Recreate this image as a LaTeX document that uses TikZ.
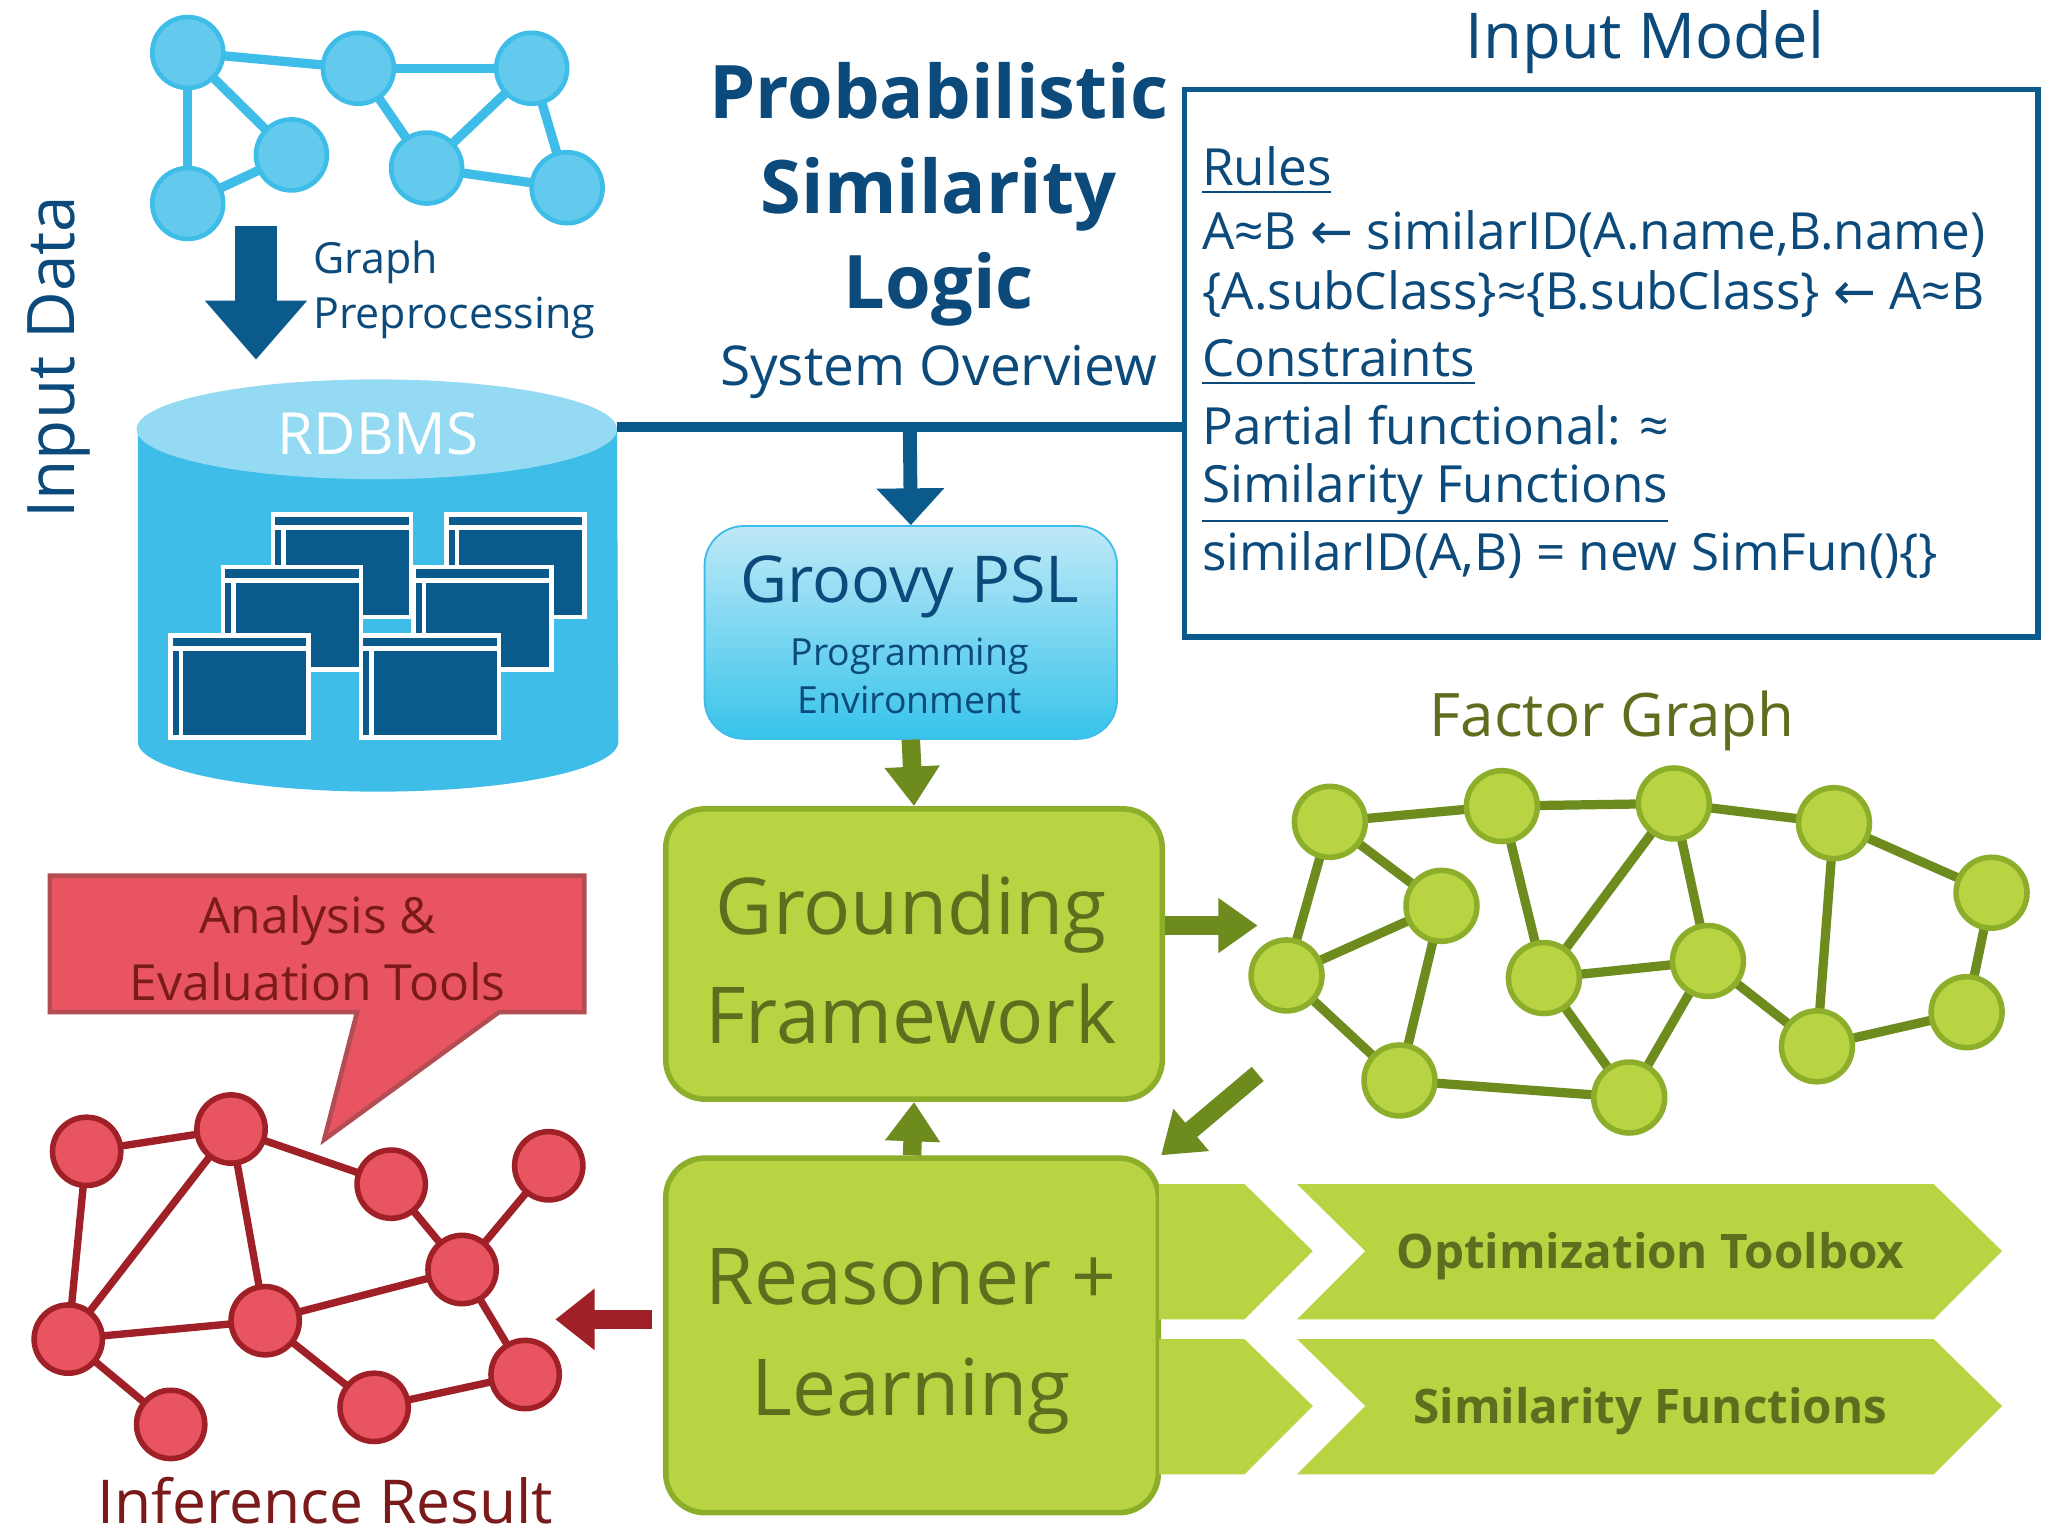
\documentclass[tikz,border=0pt]{standalone}
\usepackage{fontspec}
\setmainfont{Open Sans}
\newfontfamily\djv{DejaVu Sans}
\usetikzlibrary{arrows.meta}
\definecolor{dblue}{HTML}{0B5A8C}
\definecolor{tblue}{HTML}{0B4A7A}
\definecolor{cyanA}{HTML}{3DBDE8}
\definecolor{cyanB}{HTML}{95DAF3}
\definecolor{lgreen}{HTML}{B8D443}
\definecolor{bgreen}{HTML}{8DAE2A}
\definecolor{olive}{HTML}{5E6E1E}
\definecolor{aolive}{HTML}{6E8B1E}
\definecolor{rfill}{HTML}{E85560}
\definecolor{rdark}{HTML}{A02028}
\definecolor{rtext}{HTML}{7A1A1A}
\tikzset{
 bn/.style={circle,fill=cyanA!80!white,draw=cyanA,line width=1pt,minimum size=0.54cm,inner sep=0},
 gn/.style={circle,fill=lgreen,draw=bgreen,line width=1.2pt,minimum size=0.54cm,inner sep=0},
 rn/.style={circle,fill=rfill,draw=rdark,line width=1.2pt,minimum size=0.52cm,inner sep=0},
 be/.style={draw=cyanA,line width=2pt},
 ge/.style={draw=aolive,line width=2pt},
 re/.style={draw=rdark,line width=1.6pt},
 tbl/.style={fill=dblue,draw=white,line width=1pt},
 gbox/.style={fill=lgreen,draw=bgreen,line width=1.2pt,rounded corners=0.3cm},
 garr/.style={draw=aolive,line width=4pt,-{Triangle[length=0.3cm,width=0.4cm]}},
 mtxt/.style={font=\fontsize{11.1}{13}\selectfont,text=tblue,anchor=west,inner sep=0},
}
\begin{document}
\begin{tikzpicture}[x=0.01cm,y=-0.01cm]
\useasboundingbox[fill=white] (0,0) rectangle (1560,1170);
% top-left graph
\foreach \n/\x/\y in {a/143/40,b/273/52,c/405/52,d/222/118,e/325/128,f/432/143,g/143/155}
  \coordinate (t\n) at (\x,\y);
\foreach \u/\v in {a/b,b/c,a/d,a/g,d/g,b/e,c/e,c/f,e/f} \draw[be] (t\u)--(t\v);
\foreach \n in {a,b,c,d,e,f,g} \node[bn] (n\n) at (t\n) {};
\coordinate (ga) at (195,172); \coordinate (gb) at (195,274);
\draw[dblue,line width=9pt,-{Triangle[length=0.45cm,width=0.75cm]}] (ga)--(gb);
\node[anchor=west,align=left,text=tblue,font=\fontsize{9.3}{12}\selectfont,inner sep=0] (gp) at (238,221) {Graph\\Preprocessing};
\node[rotate=90,text=tblue,font=\fontsize{14.2}{16}\selectfont] (idata) at (45,272) {Input Data};
% cylinder
\fill[cyanA] (105,327) -- (105,565) arc[x radius=183,y radius=38,start angle=180,end angle=0] -- (470,327) -- cycle;
\fill[cyanB] (287,327) ellipse[x radius=183,y radius=38];
\node[text=white,font=\fontsize{12.6}{15}\selectfont] (rdb) at (288,330) {RDBMS};
\foreach \x/\y in {208/392,340/392,170/432,315/432,130/484,275/484}{
 \draw[tbl] (\x,\y) rectangle ++(105,78);
 \draw[white,line width=1pt] (\x,\y+10) -- ++(105,0);
 \draw[white,line width=1pt] (\x+8,\y+10) -- ++(0,68);
}
% title
\node[font=\bfseries\fontsize{16}{20.5}\selectfont,text=tblue,align=center] (title) at (715,148) {Probabilistic\\Similarity\\Logic};
\node[font=\fontsize{11.9}{14}\selectfont,text=tblue] (sov) at (715,283) {System Overview};
% input model
\node[font=\fontsize{13.7}{16}\selectfont,text=tblue] (imt) at (1253,32) {Input Model};
\node[draw=dblue,line width=1.2pt,minimum width=6.5cm,minimum height=4.17cm,anchor=north west,inner sep=0] (im) at (900,66) {};
\node[mtxt] (l1) at (915,130) {\underline{Rules}};
\node[mtxt] (l2) at (915,178) {A≈B {\djv ←} similarID(A.name,B.name)};
\node[mtxt] (l3) at (915,224) {\{A.subClass\}≈\{B.subClass\} {\djv ←} A≈B};
\node[mtxt] (l4) at (915,276) {\underline{Constraints}};
\node[mtxt] (l5) at (915,324) {Partial functional: ≈};
\node[mtxt] (l6) at (915,376) {\underline{Similarity Functions}};
\node[mtxt] (l7) at (915,423) {similarID(A,B) = new SimFun()\{\}};
% connector line
\coordinate (j) at (693,325);
\draw[dblue,line width=2.2pt] (470,325) -- (900,325);
% groovy
\node[anchor=north west,minimum width=3.14cm,minimum height=1.62cm,rounded corners=0.3cm,top color=cyanB!60!white,bottom color=cyanA!90!cyan,draw=cyanA,inner sep=0] (gr) at (536,400) {};
\draw[dblue,line width=3pt,-{Triangle[length=0.28cm,width=0.5cm]}] (j) -- (gr.north);
\node[text=tblue,font=\fontsize{14}{16}\selectfont] (grt) at (693,447) {Groovy PSL};
\node[text=tblue,align=center,font=\fontsize{8.1}{10.3}\selectfont] (grs) at (693,515) {Programming\\Environment};
% grounding
\node[gbox,anchor=north west,minimum width=3.78cm,minimum height=2.21cm] (gf) at (505,614) {};
\node[text=olive,align=center,font=\fontsize{17}{23.5}\selectfont] (gft) at (694,731) {Grounding\\Framework};
\draw[garr] (gr.south) -- (gf.north);
% reasoner
\node[gbox,anchor=north west,minimum width=3.75cm,minimum height=2.7cm] (rs) at (505,880) {};
\node[text=olive,align=center,font=\fontsize{17}{24}\selectfont] (rst) at (694,1022) {Reasoner +\\Learning};
\draw[garr] (rs.north) -- (gf.south);
% chevrons
\foreach \y in {902,1020}{
 \fill[lgreen] (883,\y) -- (948,\y) -- (1000,\y+51) -- (948,\y+103) -- (883,\y+103) -- cycle;
 \fill[lgreen] (988,\y) -- (1473,\y) -- (1525,\y+51) -- (1473,\y+103) -- (988,\y+103) -- (1040,\y+51) -- cycle;
}
\node[text=olive,font=\bfseries\fontsize{10.3}{12}\selectfont] (ot) at (1257,957) {Optimization Toolbox};
\node[text=olive,font=\bfseries\fontsize{10.3}{12}\selectfont] (sf) at (1257,1075) {Similarity Functions};
% factor graph
\node[text=olive,font=\fontsize{13}{16}\selectfont] (fgt) at (1228,549) {Factor Graph};
\foreach \n/\x/\y in {1/1013/626,2/1144/614,3/1275/612,4/1397/627,5/1517/680,6/1098/690,7/980/743,8/1176/745,9/1301/732,10/1498/771,11/1384/797,12/1066/823,13/1241/836}
  \coordinate (f\n) at (\x,\y);
\foreach \u/\v in {1/2,2/3,3/4,4/5,1/6,1/7,6/7,2/8,3/8,3/9,6/12,7/12,8/9,8/13,12/13,9/11,9/13,4/11,5/10,10/11} \draw[ge] (f\u)--(f\v);
\foreach \n in {1,...,13} \node[gn] (fn\n) at (f\n) {};
\coordinate (fa) at (958,705); \coordinate (fb) at (958,818);
\draw[garr] (gf.east |- fa) -- (fa);
\draw[garr] (fb) -- (rs.north east);
% red
\coordinate (ra) at (497,1005); \coordinate (rb) at (423,1005);
\draw[rdark,line width=4pt,-{Triangle[length=0.3cm,width=0.45cm]}] (ra) -- (rb);
\draw[fill=rfill,draw=rdark!80,line width=1pt] (38,667) -- (445,667) -- (445,771) -- (380,771) -- (247,868) -- (272,771) -- (38,771) -- cycle;
\node[text=rtext,align=center,font=\fontsize{10.8}{14.5}\selectfont] (an) at (242,722) {Analysis \&\\Evaluation Tools};
\foreach \n/\x/\y in {1/66/877,2/176/860,3/298/902,4/418/888,5/352/967,6/202/1006,7/52/1020,8/400/1047,9/285/1072,10/130/1085}
  \coordinate (r\n) at (\x,\y);
\foreach \u/\v in {1/2,2/3,3/5,4/5,1/7,2/7,2/6,5/6,6/7,5/8,7/10,6/9,9/8} \draw[re] (r\u)--(r\v);
\foreach \n in {1,...,10} \node[rn] (rn\n) at (r\n) {};
\node[text=rtext,font=\fontsize{13.1}{16}\selectfont] (ir) at (248,1143) {Inference Result};
\end{tikzpicture}
\end{document}
